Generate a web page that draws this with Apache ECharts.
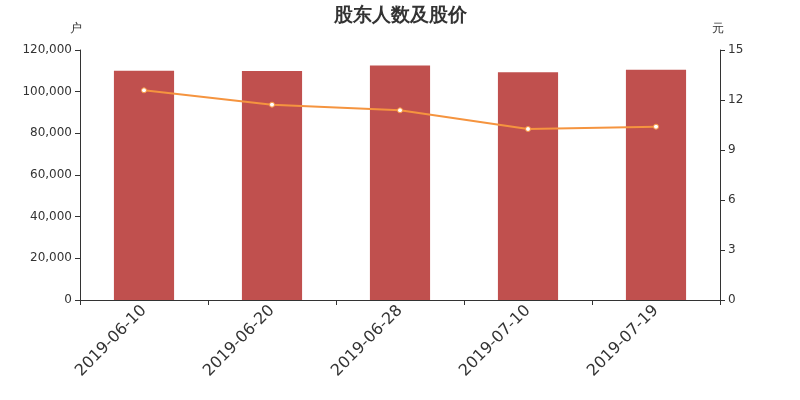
<!DOCTYPE html>
<html><head><meta charset="utf-8">
<script src="https://cdn.jsdelivr.net/npm/echarts@6/dist/echarts.min.js"></script>
<style>html,body{margin:0;padding:0;background:#fff}#c{width:800px;height:400px}</style>
</head><body><div id="c"></div>
<script>
const categories = ['2019-06-10','2019-06-20','2019-06-28','2019-07-10','2019-07-19'];
const holders = [110100, 109900, 112600, 109300, 110500];
const prices = [12.58, 11.72, 11.38, 10.26, 10.40];
const leftTicks = [0, 20000, 40000, 60000, 80000, 100000, 120000];
const rightTicks = [0, 3, 6, 9, 12, 15];

const font = 'DejaVu Sans';
const chart = echarts.init(document.getElementById('c'));
chart.setOption({
  animation: false,
  textStyle: {fontFamily: font},
  title: {text: '股东人数及股价', left: 'center', top: 2,
    textStyle: {fontFamily: font, fontSize: 19, fontWeight: 'bold', color: '#333'}},
  grid: {left: 80, right: 80, top: 50, bottom: 100},
  xAxis: {type: 'category', data: categories, boundaryGap: true,
    axisLine: {lineStyle: {color: '#333'}},
    axisTick: {show: true, alignWithLabel: false, lineStyle: {color: '#333'}},
    axisLabel: {rotate: 45, fontSize: 16, color: '#333', fontFamily: font, margin: 8}},
  yAxis: [
    {type: 'value', min: leftTicks[0], max: leftTicks[leftTicks.length-1], interval: 20000,
     name: '户', nameGap: 15, nameTextStyle: {color: '#333', fontSize: 12, align: 'center', padding: [0, 8, 0, 0]},
     splitLine: {show: false},
     axisLine: {show: true, lineStyle: {color: '#333'}},
     axisTick: {show: true},
     axisLabel: {color: '#333', fontSize: 12, formatter: v => v.toLocaleString('en-US')}},
    {type: 'value', min: rightTicks[0], max: rightTicks[rightTicks.length-1], interval: 3,
     name: '元', nameGap: 15, nameTextStyle: {color: '#333', fontSize: 12, align: 'center', padding: [0, 4, 0, 0]},
     splitLine: {show: false},
     axisLine: {show: true, lineStyle: {color: '#333'}},
     axisTick: {show: true},
     axisLabel: {color: '#333', fontSize: 12}}
  ],
  series: [
    {type: 'bar', data: holders, yAxisIndex: 0, barWidth: '47%',
     itemStyle: {color: '#c0504e'}},
    {type: 'line', data: prices, yAxisIndex: 1, symbol: 'circle', symbolSize: 5,
     lineStyle: {color: '#f5943f', width: 2},
     itemStyle: {color: '#fff', borderColor: '#f5943f', borderWidth: 1}}
  ]
});
</script></body></html>
